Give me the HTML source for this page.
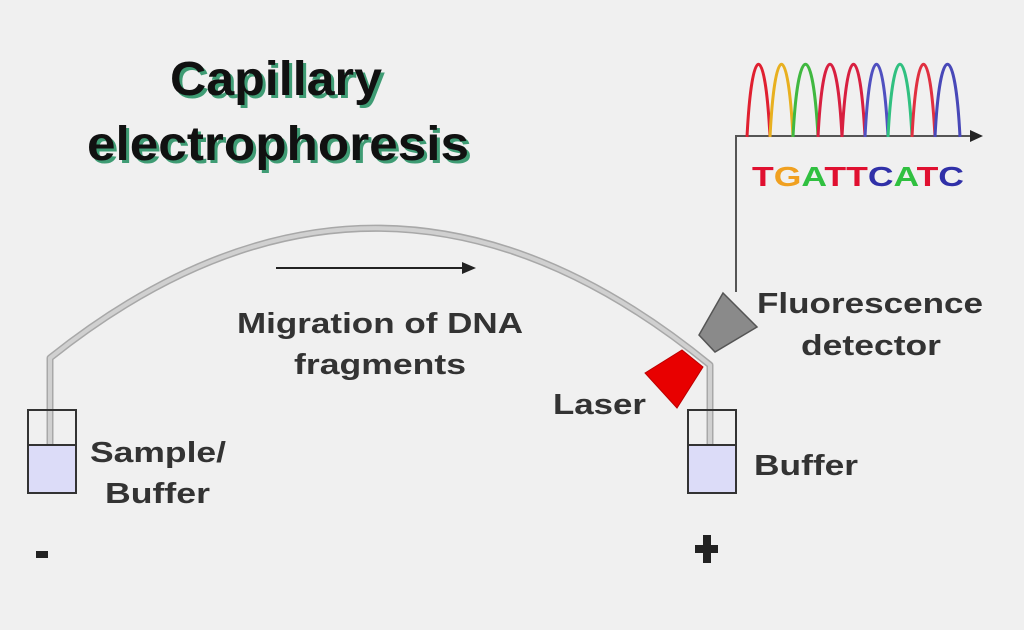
<!DOCTYPE html>
<html><head><meta charset="utf-8"><style>
html,body{margin:0;padding:0;background:#f0f0f0;}
svg{display:block}
.t{font-family:"Liberation Sans",sans-serif;font-weight:bold;}
</style></head><body>
<svg width="1024" height="630" viewBox="0 0 1024 630" xmlns="http://www.w3.org/2000/svg">
<rect width="1024" height="630" fill="#f0f0f0"/>
<!-- title -->
<g class="t" font-size="48">
<text x="173" y="98" fill="#3f9c74" textLength="212" lengthAdjust="spacingAndGlyphs">Capillary</text>
<text x="170" y="95" fill="#111" textLength="212" lengthAdjust="spacingAndGlyphs">Capillary</text>
<text x="90" y="163" fill="#3f9c74" textLength="382" lengthAdjust="spacingAndGlyphs">electrophoresis</text>
<text x="87" y="160" fill="#111" textLength="382" lengthAdjust="spacingAndGlyphs">electrophoresis</text>
</g>
<!-- capillary -->
<path d="M50,445 L50,358 Q380,95 710,365 L710,455" fill="none" stroke="#a8a8a8" stroke-width="7" stroke-linejoin="round"/>
<path d="M50,445 L50,358 Q380,95 710,365 L710,455" fill="none" stroke="#d0d0d0" stroke-width="4" stroke-linejoin="round"/>
<!-- vials -->
<rect x="28" y="445" width="48" height="48" fill="#dcdcf8"/>
<rect x="28" y="410" width="48" height="83" fill="none" stroke="#333" stroke-width="2"/>
<line x1="28" y1="445" x2="76" y2="445" stroke="#333" stroke-width="2"/>
<rect x="688" y="445" width="48" height="48" fill="#dcdcf8"/>
<rect x="688" y="410" width="48" height="83" fill="none" stroke="#333" stroke-width="2"/>
<line x1="688" y1="445" x2="736" y2="445" stroke="#333" stroke-width="2"/>
<!-- migration arrow -->
<line x1="276" y1="268" x2="465" y2="268" stroke="#222" stroke-width="2"/>
<polygon points="476,268 462,262 462,274" fill="#222"/>
<!-- laser & detector -->
<polygon points="645,373 682,350 703,367 677,408" fill="#e80000" stroke="#b00" stroke-width="1"/>
<polygon points="723,293 757,327 715,352 699,335" fill="#8a8a8a" stroke="#555" stroke-width="1.5"/>
<!-- detector line -->
<polyline points="736,292 736,136 972,136" fill="none" stroke="#555" stroke-width="2"/>
<polygon points="983,136 970,130 970,142" fill="#222"/>
<!-- peaks -->
<g fill="none" stroke-width="3">
<path d="M747,137 C752,40 765,40 770,137" stroke="#e02030"/>
<path d="M770,137 C775,40 788,40 793,137" stroke="#e8b020"/>
<path d="M793,137 C798,40 813,40 818,137" stroke="#40b840"/>
<path d="M818,137 C823,40 837,40 842,137" stroke="#d82040"/>
<path d="M842,137 C847,40 860,40 865,137" stroke="#d82040"/>
<path d="M865,137 C870,40 883,40 888,137" stroke="#5050c0"/>
<path d="M888,137 C893,40 907,40 912,137" stroke="#30c080"/>
<path d="M912,137 C917,40 930,40 935,137" stroke="#e03040"/>
<path d="M935,137 C940,40 955,40 960,137" stroke="#4848b8"/>
</g>
<text class="t" x="752" y="186" font-size="28" textLength="212" lengthAdjust="spacingAndGlyphs"><tspan fill="#e01030">T</tspan><tspan fill="#f0a020">G</tspan><tspan fill="#30c040">A</tspan><tspan fill="#e01030">T</tspan><tspan fill="#e01030">T</tspan><tspan fill="#3030a8">C</tspan><tspan fill="#30c040">A</tspan><tspan fill="#e01030">T</tspan><tspan fill="#3030a8">C</tspan></text>
<!-- labels -->
<g class="t" fill="#333" font-size="29">
<text x="237" y="333" textLength="286" lengthAdjust="spacingAndGlyphs">Migration of DNA</text>
<text x="294" y="374" textLength="172" lengthAdjust="spacingAndGlyphs">fragments</text>
<text x="757" y="313" textLength="226" lengthAdjust="spacingAndGlyphs">Fluorescence</text>
<text x="801" y="355" textLength="140" lengthAdjust="spacingAndGlyphs">detector</text>
<text x="553" y="414" textLength="93" lengthAdjust="spacingAndGlyphs">Laser</text>
<text x="754" y="475" textLength="104" lengthAdjust="spacingAndGlyphs">Buffer</text>
<text x="90" y="462" textLength="136" lengthAdjust="spacingAndGlyphs">Sample/</text>
<text x="105" y="503" textLength="105" lengthAdjust="spacingAndGlyphs">Buffer</text>
</g>
<rect x="36" y="551" width="12" height="7" fill="#222"/>
<rect x="703" y="535" width="8" height="28" fill="#222"/>
<rect x="695" y="545" width="23" height="8" fill="#222"/>
</svg>
</body></html>
